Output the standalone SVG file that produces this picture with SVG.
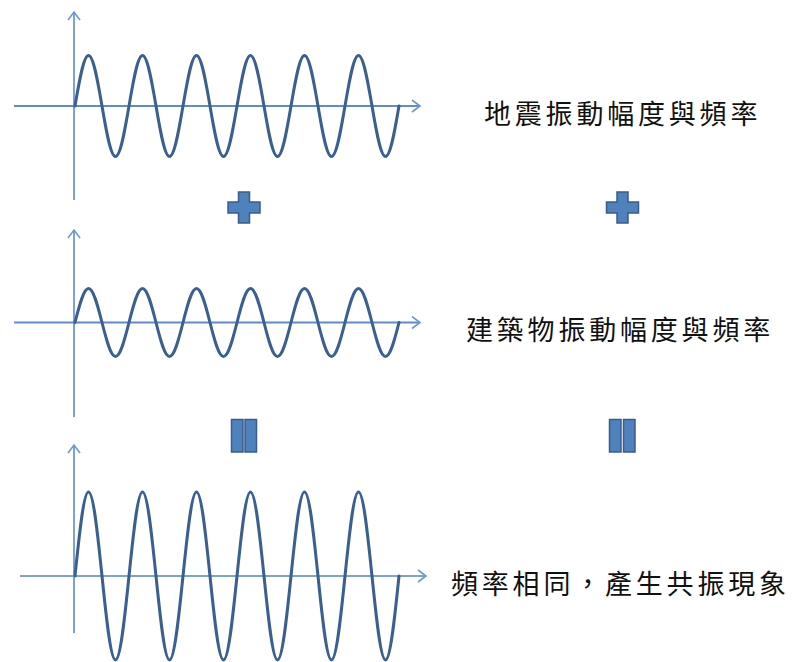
<svg xmlns="http://www.w3.org/2000/svg" width="792" height="662" viewBox="0 0 792 662">
<defs>
<marker id="arr" markerUnits="userSpaceOnUse" markerWidth="12" markerHeight="14" refX="9" refY="7" orient="auto">
<path d="M1,1 L9,7 L1,13" fill="none" stroke="#6E98CF" stroke-width="1.6"/>
</marker>
<style>
.ax{fill:none;stroke:#7CA2D6;stroke-width:2;marker-end:url(#arr)}
.axh{fill:none;stroke:#5F8DC9;stroke-width:2;marker-end:url(#arr)}
.wave{fill:none;stroke:#3A5F91;stroke-width:3;stroke-linejoin:round;stroke-linecap:round}
.sym{fill:#4F81BD;stroke:#385D8A;stroke-width:1.5}
.lbl{font-family:"Noto Sans CJK TC","Noto Sans CJK SC",sans-serif;font-size:27px;letter-spacing:3.8px;fill:#111;dominant-baseline:central}
</style>
</defs>
<rect width="792" height="662" fill="#fff"/>

<g id="graph-earthquake">
<line class="ax" x1="74" y1="200" x2="74" y2="12"/>
<line class="axh" x1="14" y1="106" x2="420" y2="106"/>
<path class="wave" d="M75,106 c4.4,-25.87 8.61,-50.5 13.5,-50.5 s9.1,24.63 13.5,50.5 s8.61,50.5 13.5,50.5 s9.1,-24.63 13.5,-50.5 s8.61,-50.5 13.5,-50.5 s9.1,24.63 13.5,50.5 s8.61,50.5 13.5,50.5 s9.1,-24.63 13.5,-50.5 s8.61,-50.5 13.5,-50.5 s9.1,24.63 13.5,50.5 s8.61,50.5 13.5,50.5 s9.1,-24.63 13.5,-50.5 s8.61,-50.5 13.5,-50.5 s9.1,24.63 13.5,50.5 s8.61,50.5 13.5,50.5 s9.1,-24.63 13.5,-50.5 s8.61,-50.5 13.5,-50.5 s9.1,24.63 13.5,50.5 s8.61,50.5 13.5,50.5 s9.1,-24.63 13.5,-50.5 s8.61,-50.5 13.5,-50.5 s9.1,24.63 13.5,50.5 s8.61,50.5 13.5,50.5 s9.1,-24.63 13.5,-50.5"/>
</g>

<g id="graph-building">
<line class="ax" x1="74" y1="417" x2="74" y2="230"/>
<line class="axh" x1="14" y1="322.5" x2="420" y2="322.5"/>
<path class="wave" d="M75,322.5 c4.4,-17.42 8.61,-34 13.5,-34 s9.1,16.58 13.5,34 s8.61,34 13.5,34 s9.1,-16.58 13.5,-34 s8.61,-34 13.5,-34 s9.1,16.58 13.5,34 s8.61,34 13.5,34 s9.1,-16.58 13.5,-34 s8.61,-34 13.5,-34 s9.1,16.58 13.5,34 s8.61,34 13.5,34 s9.1,-16.58 13.5,-34 s8.61,-34 13.5,-34 s9.1,16.58 13.5,34 s8.61,34 13.5,34 s9.1,-16.58 13.5,-34 s8.61,-34 13.5,-34 s9.1,16.58 13.5,34 s8.61,34 13.5,34 s9.1,-16.58 13.5,-34 s8.61,-34 13.5,-34 s9.1,16.58 13.5,34 s8.61,34 13.5,34 s9.1,-16.58 13.5,-34"/>
</g>

<g id="graph-resonance">
<line class="ax" x1="74" y1="633" x2="74" y2="445"/>
<line class="ax" x1="20" y1="576" x2="426" y2="576"/>
<path class="wave" d="M75,576 c4.4,-43.03 8.61,-84 13.5,-84 s9.1,40.97 13.5,84 s8.61,84 13.5,84 s9.1,-40.97 13.5,-84 s8.61,-84 13.5,-84 s9.1,40.97 13.5,84 s8.61,84 13.5,84 s9.1,-40.97 13.5,-84 s8.61,-84 13.5,-84 s9.1,40.97 13.5,84 s8.61,84 13.5,84 s9.1,-40.97 13.5,-84 s8.61,-84 13.5,-84 s9.1,40.97 13.5,84 s8.61,84 13.5,84 s9.1,-40.97 13.5,-84 s8.61,-84 13.5,-84 s9.1,40.97 13.5,84 s8.61,84 13.5,84 s9.1,-40.97 13.5,-84 s8.61,-84 13.5,-84 s9.1,40.97 13.5,84 s8.61,84 13.5,84 s9.1,-40.97 13.5,-84"/>
</g>

<g id="plus-left">
<path class="sym" d="M238.5,192 h11 v10 h10.5 v11 h-10.5 v10 h-11 v-10 h-10.5 v-11 h10.5 z"/>
</g>
<g id="plus-right">
<path class="sym" d="M617,192 h11 v10 h10.5 v11 h-10.5 v10 h-11 v-10 h-10.5 v-11 h10.5 z"/>
</g>

<g id="equals-left">
<rect class="sym" x="231.5" y="419.5" width="11.5" height="32.5"/>
<rect class="sym" x="245" y="419.5" width="11.5" height="32.5"/>
</g>
<g id="equals-right">
<rect class="sym" x="609.5" y="419.5" width="11.5" height="32.5"/>
<rect class="sym" x="623.5" y="419.5" width="11.5" height="32.5"/>
</g>

<g id="label-earthquake"><text class="lbl" x="484" y="112">地震振動幅度與頻率</text></g>
<g id="label-building"><text class="lbl" x="466" y="328">建築物振動幅度與頻率</text></g>
<g id="label-resonance"><text class="lbl" x="451" y="582">頻率相同，產生共振現象</text></g>
</svg>
